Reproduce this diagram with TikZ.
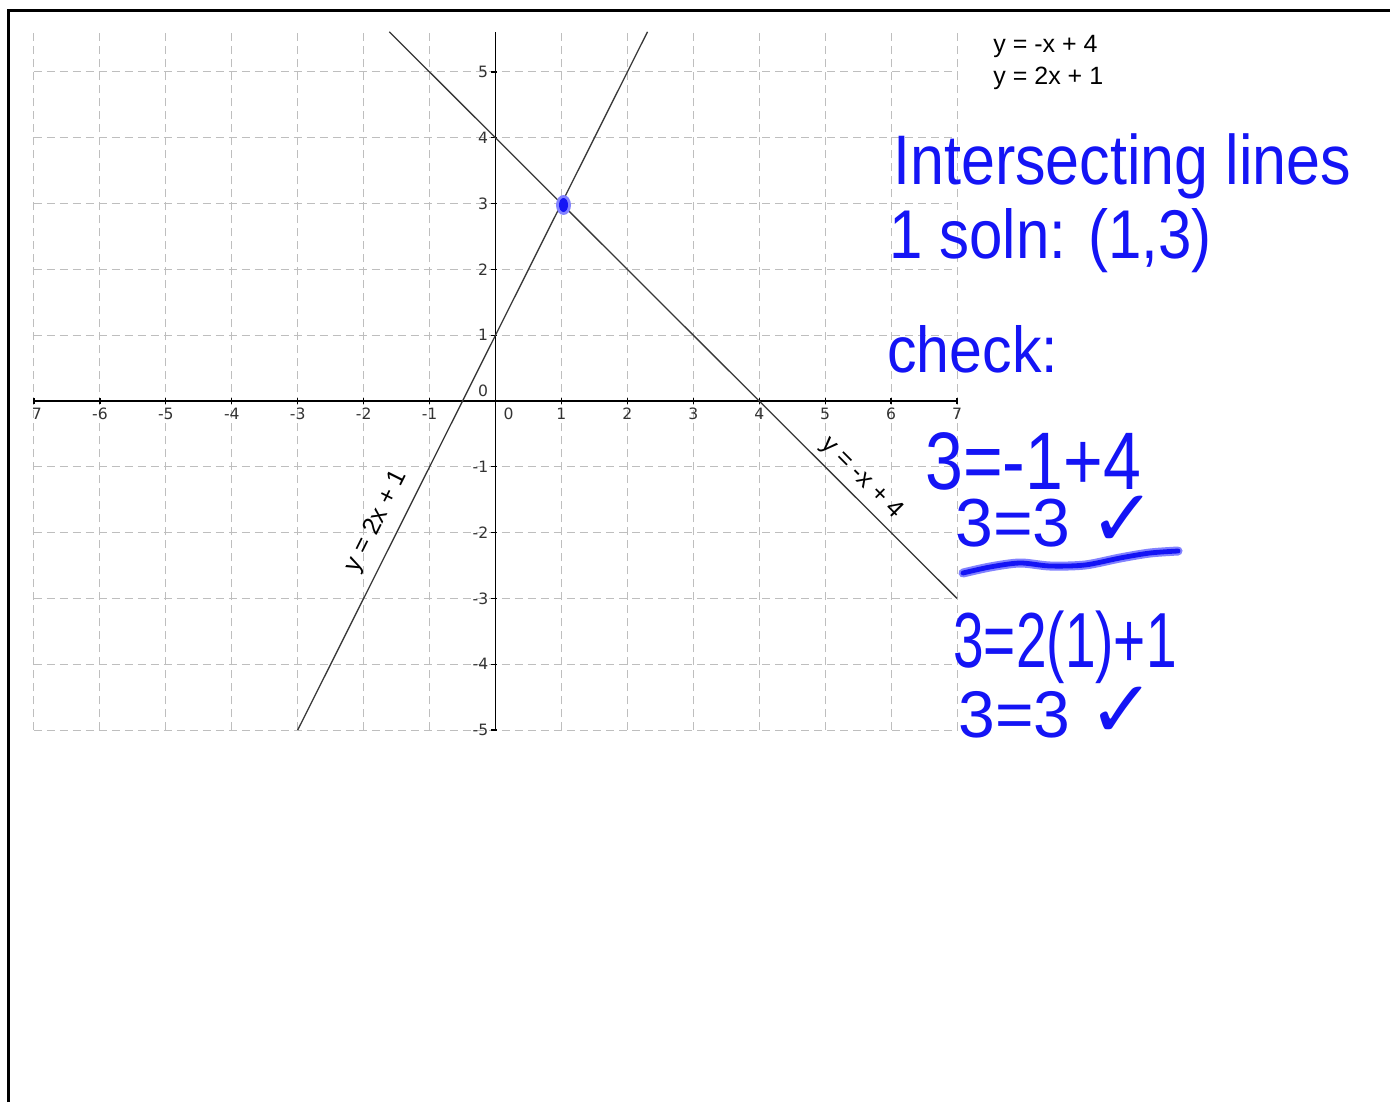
\documentclass[tikz,border=0pt]{standalone}
\usepackage{fontspec}
\setmainfont{Liberation Sans}
\newfontfamily\geo{DejaVu Sans}
\newfontfamily\eqf[WordSpace=1.9]{Liberation Sans}
\newfontfamily\rotf[WordSpace=1.6]{Liberation Sans}
\newfontfamily\hand{Liberation Sans}
\newfontfamily\checkf{DejaVu Sans}
\definecolor{ink}{RGB}{20,20,245}
\definecolor{halo}{RGB}{130,130,255}
\definecolor{gridc}{RGB}{190,190,190}
\definecolor{linec}{RGB}{55,55,55}
\tikzset{
  gridline/.style={gridc, line width=0.5pt, dash pattern=on 4pt off 2.5pt},
  axisline/.style={black, line width=0.6pt},
  fnline/.style={linec, line width=0.65pt},
  ticklab/.style={font=\geo\fontsize{7.8pt}{9pt}\selectfont, text=black!80, inner sep=0.5pt},
  eqtext/.style={font=\eqf\fontsize{12.5pt}{14pt}\selectfont, inner sep=0pt},
  rottext/.style={font=\rotf\fontsize{12.5pt}{14pt}\selectfont, inner sep=0pt},
  hw/.style={text=ink, inner sep=0pt, anchor=base west},
  wave/.style={line cap=round, line join=round},
}
\begin{document}
\begin{tikzpicture}[x=0.5pt,y=-0.5pt]
\useasboundingbox (0,0) rectangle (1390,1102);
\fill[white] (0,0) rectangle (1390,1102);
% frame
\draw[line width=1.5pt] (8.5,1102) -- (8.5,10.5) -- (1390,10.5);

% graph
\begin{scope}[shift={(495.5,401)}, x=32.965pt, y=32.9pt]
  \foreach \i in {-7,...,7} \draw[gridline] (\i,-5) -- (\i,5.61);
  \foreach \j in {-5,...,5} \draw[gridline] (-7,\j) -- (7,\j);
  \draw[axisline] (-7,0) -- (7,0);
  \draw[axisline] (0,-5) -- (0,5.61);
  \foreach \i in {-7,...,7} \draw[axisline] (\i,-0.05) -- (\i,0.05);
  \foreach \j in {-5,...,5} \draw[axisline] (-0.07,\j) -- (0.03,\j);
  \begin{scope}
    \clip (-7,-0.6) rectangle (7.12,0);
    \foreach \i in {-7,...,-1,1,2,3,4,5,6,7}
      \node[ticklab, anchor=north] (xl\i) at (\i,-0.08) {\i};
  \end{scope}
  \node[ticklab, anchor=north west] (xl0) at (0.1,-0.08) {0};
  \foreach \j in {-5,...,-1,1,2,3,4,5}
    \node[ticklab, anchor=east] (yl\j) at (-0.09,\j) {\j};
  \node[ticklab, anchor=south east] (yl0) at (-0.09,0.05) {0};
  % the two lines
  \draw[fnline] (-1.61,5.61) -- (7,-3);
  \draw[fnline] (-3,-5) -- (2.305,5.61);
  \coordinate (P) at (1,3);
  \node[rottext, rotate=63.43] (lab2) at (-1.80,-1.83) {y = 2x + 1};
  \node[rottext, rotate=-45] (lab1) at (5.56,-1.17) {y = -x + 4};
\end{scope}

% intersection blob
\fill[halo] (563.5,205) ellipse [x radius=7.5, y radius=10];
\fill[ink] (563.5,205) ellipse [x radius=4.5, y radius=7];

% equations top
\node[eqtext, anchor=base west] (eq1) at (993,53) {y = -x + 4};
\node[eqtext, anchor=base west] (eq2) at (993,84) {y = 2x + 1};

% handwriting
\node[hw] (h1) at (893,184) {\hand\fontsize{30.5pt}{36pt}\selectfont\scalebox{1}[1.15]{Intersecting lines}};
\node[hw] (h2) at (889,258) {\hand\fontsize{30pt}{36pt}\selectfont\scalebox{1}[1.15]{1 soln: (1,3)}};
\node[hw] (h3) at (887,372) {\hand\fontsize{29.5pt}{36pt}\selectfont\scalebox{1}[1.1]{check:}};
\node[hw] (h4) at (925,489) {\hand\fontsize{34pt}{40pt}\selectfont\scalebox{1}[1.2]{3=-1+4}};
\node[hw] (h5) at (955,546) {\hand\fontsize{34pt}{40pt}\selectfont 3=3 {\checkf\fontsize{40pt}{40pt}\selectfont ✓}};
\node[hw] (h6) at (953,667) {\hand\fontsize{27.5pt}{36pt}\selectfont\scalebox{1}[1.42]{3=2(1)+1}};
\node[hw] (h7) at (958,737) {\hand\fontsize{33pt}{40pt}\selectfont 3=3 {\checkf\fontsize{40pt}{40pt}\selectfont ✓}};

% wavy underline
\draw[halo, line width=4.5pt, wave] plot[smooth] coordinates {(963,573) (990,567) (1020,563) (1050,566) (1085,565) (1120,558) (1150,553) (1178,551)};
\draw[ink, line width=2.4pt, wave] plot[smooth] coordinates {(963,573) (990,567) (1020,563) (1050,566) (1085,565) (1120,558) (1150,553) (1178,551)};
\end{tikzpicture}
\end{document}
